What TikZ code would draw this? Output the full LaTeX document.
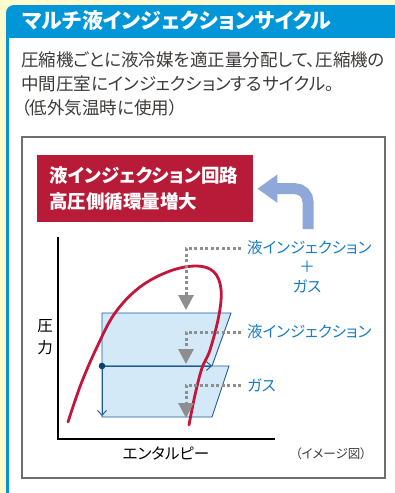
\documentclass[tikz,border=0pt]{standalone}
\usepackage{fontspec}
\setmainfont{Noto Sans CJK JP}[RawFeature={+palt}]
\usetikzlibrary{arrows.meta}
\definecolor{paleyellow}{HTML}{FFFBCC}
\definecolor{titleblue}{HTML}{0096D8}
\definecolor{bodygray}{HTML}{3E3A39}
\definecolor{framegray}{HTML}{726C6C}
\definecolor{boxred}{HTML}{B81B37}
\definecolor{arrowblue}{HTML}{8EA8D9}
\definecolor{domered}{HTML}{C3163D}
\definecolor{cellfill}{HTML}{D3E9F7}
\definecolor{celledge}{HTML}{1D5A97}
\definecolor{dotnavy}{HTML}{0B3E72}
\definecolor{tagblue}{HTML}{1A7DC4}
\definecolor{guidegray}{HTML}{8E8E8E}
\tikzset{
  cell/.style={fill=cellfill,draw=celledge,line width=0.9pt},
  guide/.style={draw=guidegray,line width=3pt,dash pattern=on 3pt off 2.5pt,
    -{Triangle[width=15pt,length=15pt]}},
  tag/.style={text=tagblue,font=\fontsize{15.5}{16}\selectfont,inner sep=2pt},
  flowtip/.style={celledge,line width=0.9pt,-{Straight Barb[length=5pt,width=9pt]}}
}

\begin{document}
\begin{tikzpicture}[x=1pt,y=-1pt,>=latex,font=\fontsize{17.5}{24}\selectfont]
  \useasboundingbox (0,0) rectangle (395,493);
  % ---------------- panel: yellow page, blue frame, title bar
  \fill[paleyellow] (0,0) rectangle (395,493);
  \begin{scope}
    \clip (0,0) rectangle (395,493);
    \fill[titleblue,rounded corners=8pt] (6,5) rectangle (420,520);
  \end{scope}
  \fill[white] (9,38) rectangle (395,493);
  \node[anchor=west,text=white,font=\bfseries\fontsize{21}{21}\selectfont] (title) at (19,21)
    {マルチ液インジェクションサイクル};
  \node[anchor=north west,align=left,text=bodygray,inner sep=0pt] (intro) at (21,52)
    {圧縮機ごとに液冷媒を適正量分配して、圧縮機の\\中間圧室にインジェクションするサイクル。\\（低外気温時に使用）};
  % ---------------- chart frame and headline
  \draw[framegray,line width=1.3pt] (22,137) rectangle (385,478);
  \node[anchor=north west,fill=boxred,text=white,font=\bfseries\fontsize{18.5}{26}\selectfont,
    align=left,text width=192pt,inner xsep=12pt,minimum height=67pt] (headline) at (37,155)
    {液インジェクション回路\\高圧側循環量増大};
  \coordinate (rise) at (308,229);
  \draw[arrowblue,line width=11pt,rounded corners=13pt,shorten >=4pt,
    -{Triangle[width=27pt,length=20pt]}] (rise) |- (headline.east);
  % ---------------- axes
  \draw[black,line width=1.3pt] (58,237) -- (58,439) -- (275,439);
  \node[align=center,font=\fontsize{15.5}{22}\selectfont] (pressure) at (45,337) {圧\\力};
  \node[font=\fontsize{15.5}{16}\selectfont] (enthalpy) at (166,454) {エンタルピー};
  \node[font=\fontsize{12.5}{13}\selectfont,text=bodygray] (sketch) at (331,454) {（イメージ図）};
  % ---------------- cycle: two compression steps
  \filldraw[cell] (102,313) -- (231,313) -- (212,366) -- (102,366) -- cycle;
  \filldraw[cell] (102,366) -- (229,366) -- (212,417) -- (102,417) -- cycle;
  \coordinate (mid) at (102,366);
  \coordinate (midend) at (212,366);
  \coordinate (low) at (102,416);
  \draw[flowtip] (mid) -- (midend);
  \draw[flowtip] (mid) -- (low);
  \fill[dotnavy] (mid) circle (3.3pt);
  % saturation dome
  \draw[domered,line width=2.8pt,line cap=round] plot[smooth,tension=0.6] coordinates
    {(68,422) (81,384) (97,347) (115,313) (140,287) (170,271) (197,266) (214,272)
     (221,289) (219,315) (210,350) (202,368) (195,395) (189,425)};
  % ---------------- injection guides
  \node[tag,anchor=west] (liqgas) at (245,248) {液インジェクション};
  \node[tag] (plus) at (307,267) {＋};
  \node[tag] (gasmix) at (307,286) {ガス};
  \node[tag,anchor=west] (liquid) at (245,332) {液インジェクション};
  \node[tag,anchor=west] (gas) at (245,385) {ガス};
  \coordinate (tipa) at (186,310);
  \coordinate (tipb) at (186,364);
  \coordinate (tipc) at (186,418);
  \draw[guide,shorten <=4pt] (liqgas.west) -| (tipa);
  \draw[guide,shorten <=4pt] (liquid.west) -| (tipb);
  \draw[guide,shorten <=4pt] (gas.west) -| (tipc);
\end{tikzpicture}
\end{document}
